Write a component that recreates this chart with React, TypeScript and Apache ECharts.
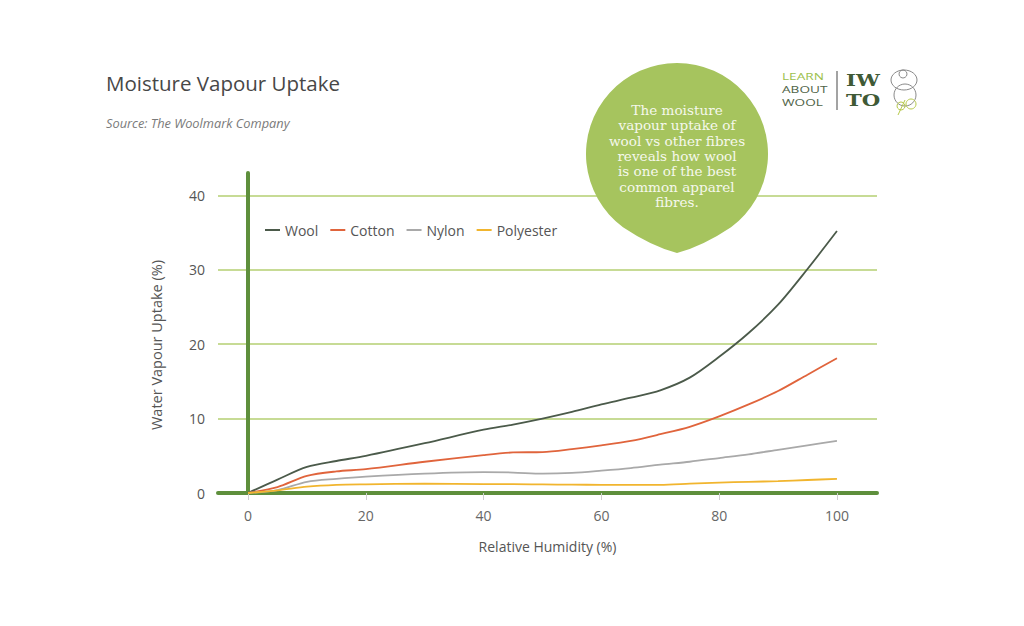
import React, { useEffect, useRef } from "react";
import * as echarts from "echarts";

const humidity = [0, 5, 10, 15, 20, 30, 40, 45, 50, 55, 60, 65, 70, 75, 80, 85, 90, 95, 100];
const wool = [0, 1.8, 3.5, 4.3, 5.0, 6.7, 8.5, 9.2, 10.0, 10.9, 11.9, 12.8, 13.8, 15.5, 18.3, 21.5, 25.3, 30.1, 35.2];
const cotton = [0, 0.8, 2.3, 2.9, 3.2, 4.2, 5.1, 5.45, 5.5, 5.9, 6.4, 7.0, 7.9, 8.9, 10.3, 11.9, 13.7, 15.9, 18.1];
const nylon = [0, 0.4, 1.5, 1.9, 2.2, 2.6, 2.8, 2.75, 2.6, 2.7, 3.0, 3.35, 3.8, 4.2, 4.7, 5.2, 5.8, 6.4, 7.0];
const polyester = [0, 0.35, 0.85, 1.1, 1.17, 1.25, 1.2, 1.2, 1.15, 1.12, 1.1, 1.1, 1.1, 1.25, 1.4, 1.5, 1.6, 1.75, 1.9];

const seriesNames = ["Wool", "Cotton", "Nylon", "Polyester"];
const seriesColors = ["#4b5a4a", "#e0643c", "#a9a9a9", "#f1b52e"];
const xTicks = [0, 20, 40, 60, 80, 100];
const balloonLines = [
  "The moisture",
  "vapour uptake of",
  "wool vs other fibres",
  "reveals how wool",
  "is one of the best",
  "common apparel",
  "fibres.",
];
const logoWords = ["LEARN", "ABOUT", "WOOL"];
const logoColors = ["#9cbf4c", "#4f6347", "#4f6347"];
const logoMark = ["IW", "TO"];

const balloonD =
  "M -54 73.2 A 91 91 0 1 1 54 73.2 Q 26 92 0 99 Q -26 92 -54 73.2 Z";
echarts.graphic.registerShape("balloon", echarts.graphic.extendPath(balloonD, {}));

export default function App() {
  const ref = useRef<HTMLDivElement>(null);
  useEffect(() => {
    document.body.style.margin = "0";
    const chart = echarts.init(ref.current!, null, { renderer: "svg" });
    const all = [wool, cotton, nylon, polyester];
    const font = "'Open Sans', sans-serif";
    chart.setOption({
      animation: false,
      backgroundColor: "#ffffff",
      textStyle: { fontFamily: font },
      grid: { left: 218, right: 147, top: 173, bottom: 133, containLabel: false },
      legend: {
        left: 260,
        top: 218,
        icon: "rect",
        itemWidth: 15,
        itemHeight: 2,
        itemGap: 12,
        textStyle: { color: "#555", fontSize: 14, fontFamily: font },
        data: seriesNames,
      },
      xAxis: {
        type: "value",
        min: -5.1,
        max: 106.8,
        name: "Relative Humidity (%)",
        nameLocation: "middle",
        nameGap: 46,
        nameTextStyle: { color: "#555", fontSize: 14, fontFamily: font },
        axisLine: { show: true, onZero: false, lineStyle: { color: "#5e8f3c", width: 4 } },
        axisTick: { show: true, customValues: xTicks, length: 7, lineStyle: { color: "#cfcfcf", width: 1 } },
        axisLabel: { customValues: xTicks, color: "#666", fontSize: 14, margin: 15, fontFamily: font },
        splitLine: { show: false },
      },
      yAxis: {
        type: "value",
        min: 0,
        max: 43,
        interval: 10,
        axisLine: { show: true, lineStyle: { color: "#5e8f3c", width: 4 } },
        axisTick: { show: false },
        axisLabel: {
          color: "#555",
          fontSize: 14,
          margin: 13,
          fontFamily: font,
          formatter: (v: number) => (v % 10 === 0 ? String(v) : ""),
        },
        splitLine: { show: true, showMaxLine: false, lineStyle: { color: "#b5cf72", width: 1.5 } },
      },
      graphic: [
        {
          type: "text",
          left: 106,
          top: 72,
          style: { text: "Moisture Vapour Uptake", fill: "#474747", font: `20.5px ${font}` },
        },
        {
          type: "text",
          left: 106,
          top: 116,
          style: { text: "Source: The Woolmark Company", fill: "#7a7a7a", font: `italic 12.8px ${font}` },
        },
        {
          type: "text",
          x: 156,
          y: 345,
          rotation: Math.PI / 2,
          style: {
            text: "Water Vapour Uptake (%)",
            fill: "#555",
            font: `14.5px ${font}`,
            align: "center",
            verticalAlign: "middle",
          },
        },
        {
          type: "balloon",
          x: 677,
          y: 154,
          style: { fill: "#a6c45e" },
          z: 10,
        },
        ...balloonLines.map((t, i) => ({
          type: "text",
          x: 677,
          y: 110 + i * 15.3,
          z: 11,
          style: {
            text: t,
            fill: "#f5f8ec",
            font: "13.6px 'DejaVu Serif', 'Liberation Serif', serif",
            align: "center",
            verticalAlign: "middle",
          },
        })),
        ...logoWords.map((w, i) => ({
          type: "text",
          x: 782,
          y: 76 + i * 13,
          scaleX: 1.45,
          style: {
            text: w,
            fill: logoColors[i],
            font: `9.4px ${font}`,
            verticalAlign: "middle",
          },
        })),
        { type: "line", shape: { x1: 837, y1: 71, x2: 837, y2: 110 }, style: { stroke: "#666", lineWidth: 1.2 } },
        ...logoMark.map((w, i) => ({
          type: "text",
          x: 846,
          y: 80.5 + i * 20,
          scaleX: 1.25,
          style: {
            text: w,
            fill: "#3f5a36",
            font: "bold 17px 'DejaVu Serif', serif",
            verticalAlign: "middle",
          },
        })),
        { type: "ellipse", shape: { cx: 904, cy: 80, rx: 13, ry: 10 }, style: { fill: "none", stroke: "#8a8a8a", lineWidth: 1 } },
        { type: "circle", shape: { cx: 903, cy: 74, r: 4 }, style: { fill: "none", stroke: "#8a8a8a", lineWidth: 1 } },
        { type: "ellipse", shape: { cx: 905, cy: 95, rx: 11, ry: 11 }, style: { fill: "none", stroke: "#8a8a8a", lineWidth: 1 } },
        { type: "circle", shape: { cx: 911, cy: 104, r: 5 }, style: { fill: "none", stroke: "#b6c94a", lineWidth: 1 } },
        { type: "circle", shape: { cx: 901, cy: 106, r: 4 }, style: { fill: "none", stroke: "#b6c94a", lineWidth: 1 } },
        { type: "line", shape: { x1: 905, y1: 100, x2: 898, y2: 115 }, style: { stroke: "#b6c94a", lineWidth: 1 } },
      ],
      series: seriesNames.map((name, i) => ({
        name,
        type: "line",
        smooth: 0.3,
        showSymbol: false,
        symbol: "none",
        lineStyle: { color: seriesColors[i], width: 1.8 },
        itemStyle: { color: seriesColors[i] },
        data: humidity.map((h, j) => [h, all[i][j]]),
        z: 3,
      })),
    });
    return () => chart.dispose();
  }, []);
  return <div ref={ref} style={{ width: 1024, height: 626 }} />;
}
